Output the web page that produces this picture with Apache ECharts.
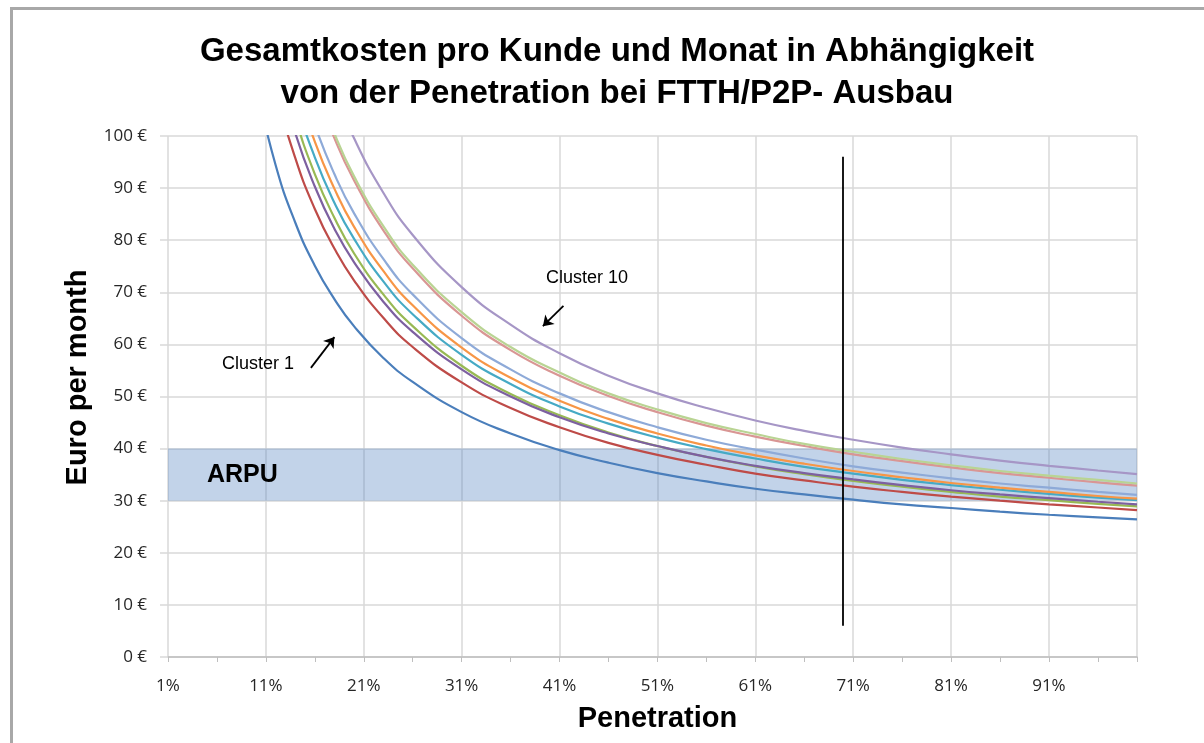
<!DOCTYPE html>
<html lang="de">
<head>
    <meta charset="UTF-8">
    <title>Gesamtkosten pro Kunde und Monat</title>
    <style>
        html, body {
            margin: 0;
            padding: 0;
            background: #fff;
        }
        #frame {
            position: absolute;
            left: 10px;
            top: 7px;
            width: 1194px;
            height: 736px;
            border-top: 3px solid #a8a8a8;
            border-left: 3px solid #a8a8a8;
            box-sizing: border-box;
        }
        #chart {
            position: absolute;
            left: 0;
            top: 0;
            width: 1204px;
            height: 743px;
        }
    </style>
</head>
<body>
<div id="frame"></div>
<div id="chart"></div>
<script src="https://cdn.jsdelivr.net/npm/echarts@6/dist/echarts.min.js"></script>
<script>
    var penetration = [10, 12, 14, 16, 18, 20, 23, 26, 31, 36, 41, 46, 51, 56, 61, 66, 71, 76, 81, 86, 91, 96, 100];

    // Euro per month for each cluster
    var cluster1  = [109.9, 94.4, 83.4, 75.1, 68.7, 63.5, 57.4, 52.8, 47.0, 42.9, 39.7, 37.3, 35.3, 33.7, 32.3, 31.2, 30.2, 29.3, 28.6, 27.9, 27.3, 26.8, 26.4];
    var cluster2  = [127.3, 109.0, 95.8, 86.0, 78.4, 72.3, 65.1, 59.5, 52.7, 47.8, 44.1, 41.1, 38.8, 36.9, 35.2, 33.9, 32.7, 31.7, 30.8, 30.0, 29.3, 28.7, 28.2];
    var cluster3  = [138.3, 118.0, 103.6, 92.7, 84.3, 77.5, 69.6, 63.5, 55.9, 50.5, 46.4, 43.1, 40.5, 38.4, 36.6, 35.1, 33.8, 32.7, 31.7, 30.8, 30.1, 29.4, 28.9];
    var cluster4  = [133.8, 114.5, 100.6, 90.3, 82.2, 75.8, 68.2, 62.4, 55.2, 50.0, 46.0, 42.9, 40.5, 38.4, 36.7, 35.3, 34.1, 33.0, 32.0, 31.2, 30.5, 29.8, 29.3];
    var cluster5  = [143.0, 122.1, 107.1, 95.9, 87.2, 80.3, 72.1, 65.8, 58.0, 52.4, 48.1, 44.8, 42.1, 39.9, 38.1, 36.5, 35.2, 34.0, 33.0, 32.1, 31.3, 30.6, 30.1];
    var cluster6  = [147.9, 126.1, 110.6, 98.9, 89.9, 82.6, 74.1, 67.5, 59.4, 53.6, 49.2, 45.7, 42.9, 40.6, 38.7, 37.1, 35.7, 34.5, 33.4, 32.5, 31.7, 30.9, 30.4];
    var cluster7  = [152.8, 130.3, 114.2, 102.1, 92.7, 85.2, 76.4, 69.6, 61.2, 55.2, 50.6, 47.0, 44.1, 41.7, 39.8, 38.1, 36.6, 35.4, 34.3, 33.3, 32.5, 31.7, 31.1];
    var cluster8  = [164.6, 140.2, 122.8, 109.7, 99.6, 91.5, 81.9, 74.6, 65.5, 58.9, 54.0, 50.1, 47.0, 44.4, 42.3, 40.5, 38.9, 37.6, 36.4, 35.3, 34.4, 33.5, 32.9];
    var cluster9  = [166.0, 141.4, 123.9, 110.7, 100.5, 92.3, 82.7, 75.3, 66.2, 59.5, 54.6, 50.6, 47.5, 44.9, 42.8, 40.9, 39.4, 38.0, 36.8, 35.7, 34.8, 34.0, 33.3];
    var cluster10 = [180.2, 153.3, 134.1, 119.8, 108.6, 99.6, 89.1, 81.0, 71.0, 63.8, 58.3, 54.0, 50.6, 47.8, 45.4, 43.4, 41.7, 40.2, 38.9, 37.7, 36.7, 35.8, 35.1];

    var clusters = [cluster1, cluster2, cluster3, cluster4, cluster5, cluster6, cluster7, cluster8, cluster9, cluster10];
    var colors = ['#4a7ebb', '#be4b48', '#98b954', '#7d60a0', '#46aac5', '#f79646', '#8eaad8', '#d99694', '#b9d493', '#a696c6'];

    // ARPU band [from, to] and the vertical marker [x, yFrom, yTo]
    var arpuBand = [30, 40];
    var cutoffLine = [69.9, 6, 96];

    // annotation texts [label, x, y] and arrows [x1, y1, x2, y2]
    var notes = [['Cluster 1', 10.2, 56.2], ['Cluster 10', 43.8, 72.7]];
    var arrows = [[15.6, 55.5, 18.0, 61.4], [41.4, 67.4, 39.3, 63.5]];

    var myChart = echarts.init(document.getElementById('chart'));

    var series = clusters.map(function (vals, i) {
        return {
            name: 'Cluster ' + (i + 1),
            type: 'line',
            smooth: true,
            showSymbol: false,
            lineStyle: {width: 2.2, color: colors[i]},
            itemStyle: {color: colors[i]},
            data: penetration.map(function (p, j) {
                return [p, vals[j]];
            })
        };
    });

    // band on top of the curves
    series.push({
        type: 'line',
        data: [],
        z: 10,
        markArea: {
            silent: true,
            itemStyle: {color: 'rgba(86, 134, 193, 0.36)'},
            label: {
                show: true,
                position: 'insideLeft',
                distance: 39,
                color: '#000',
                fontWeight: 'bold',
                fontSize: 25,
                fontFamily: 'Liberation Sans'
            },
            data: [[{name: 'ARPU', yAxis: arpuBand[0]}, {yAxis: arpuBand[1]}]]
        }
    });

    // vertical line, arrows and cluster notes
    var lines = [[{coord: [cutoffLine[0], cutoffLine[1]], symbol: 'none'},
                  {coord: [cutoffLine[0], cutoffLine[2]], symbol: 'none'}]];
    arrows.forEach(function (a) {
        lines.push([{coord: [a[0], a[1]], symbol: 'none'}, {coord: [a[2], a[3]], symbol: 'arrow', symbolSize: 10}]);
    });
    series.push({
        type: 'line',
        data: [],
        z: 12,
        markLine: {
            silent: true,
            animation: false,
            label: {show: false},
            lineStyle: {color: '#000', width: 1.8, type: 'solid'},
            data: lines
        },
        markPoint: {
            silent: true,
            symbol: 'circle',
            symbolSize: 0,
            label: {
                show: true,
                position: 'inside',
                color: '#000',
                fontSize: 18,
                fontFamily: 'Liberation Sans',
                formatter: '{b}'
            },
            data: notes.map(function (n) {
                return {name: n[0], coord: [n[1], n[2]]};
            })
        }
    });

    var option = {
        animation: false,
        backgroundColor: 'transparent',
        title: {
            text: 'Gesamtkosten pro Kunde und Monat in Abhängigkeit\nvon der Penetration bei FTTH/P2P- Ausbau',
            left: 612,
            top: 26,
            textAlign: 'center',
            textStyle: {
                fontFamily: 'Liberation Sans',
                fontWeight: 'bold',
                fontSize: 33,
                lineHeight: 42,
                color: '#000'
            }
        },
        grid: {
            left: 168,
            right: 67,
            top: 136,
            bottom: 86
        },
        xAxis: {
            type: 'value',
            min: 1,
            max: 100,
            interval: 10,
            name: 'Penetration',
            nameLocation: 'middle',
            nameGap: 47,
            nameTextStyle: {
                fontFamily: 'Liberation Sans',
                fontWeight: 'bold',
                fontSize: 29,
                color: '#000',
                padding: [0, 0, 0, 10]
            },
            axisLine: {lineStyle: {color: '#bfbfbf', width: 1.5}},
            axisTick: {show: true, length: 5, lineStyle: {color: '#bfbfbf'}},
            minorTick: {show: true, splitNumber: 2, length: 5, lineStyle: {color: '#bfbfbf'}},
            axisLabel: {
                showMaxLabel: false,
                margin: 21,
                fontFamily: 'Open Sans',
                fontSize: 17,
                color: '#262626',
                formatter: function (v) {
                    return v + '%';
                }
            },
            splitLine: {show: true, lineStyle: {color: '#d9d9d9', width: 1.5}}
        },
        yAxis: {
            type: 'value',
            min: 0,
            max: 100,
            interval: 10,
            name: 'Euro per month',
            nameLocation: 'middle',
            nameGap: 68,
            nameTextStyle: {
                fontFamily: 'Liberation Sans',
                fontWeight: 'bold',
                fontSize: 29,
                color: '#000',
                padding: [0, 0, 0, 38]
            },
            axisLine: {show: false},
            axisTick: {show: true, length: 8, lineStyle: {color: '#d9d9d9', width: 1.5}},
            axisLabel: {
                margin: 21,
                fontFamily: 'Open Sans',
                fontSize: 17,
                color: '#262626',
                formatter: function (v) {
                    return v + ' €';
                }
            },
            splitLine: {show: true, lineStyle: {color: '#d9d9d9', width: 1.5}}
        },
        series: series
    };
    myChart.setOption(option);
</script>
</body>
</html>
